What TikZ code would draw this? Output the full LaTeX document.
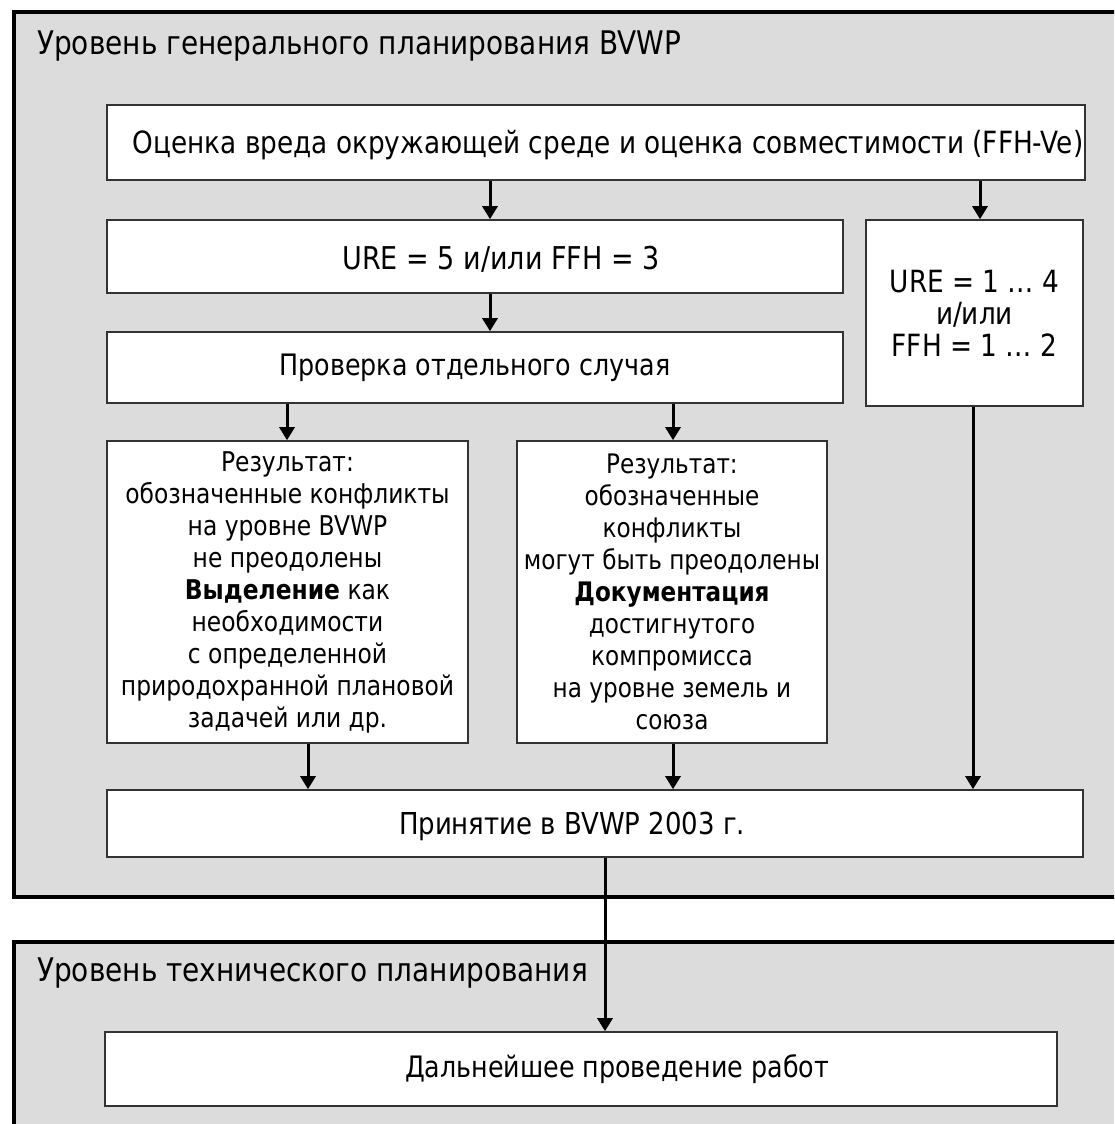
\documentclass[tikz,border=0pt]{standalone}
\usepackage{fontspec}
\setmainfont{DejaVu Sans}[FakeStretch=0.86]
\usetikzlibrary{arrows.meta}
\definecolor{panelgray}{HTML}{DCDCDC}
\definecolor{boxline}{HTML}{333333}
\newcommand{\lowerit}[1]{\raisebox{-3pt}[\height][\depth]{#1}}
\tikzset{
  panelfill/.style={fill=panelgray},
  panelline/.style={draw=black, line width=4pt},
  box/.style={draw=boxline, fill=white, line width=1.6pt, inner sep=0pt, align=center},
  fs/.style={font=\fontsize{#1}{32}\selectfont},
  arr/.style={draw=black, line width=3pt, -{Triangle[width=15pt,length=13pt]}},
  title/.style={anchor=base west, inner sep=0pt, font=\fontsize{32.5}{34}\selectfont}
}
\begin{document}
\begin{tikzpicture}[x=1pt,y=-1pt]
\useasboundingbox (0,0) rectangle (1114,1124);
\clip (0,0) rectangle (1114,1124);
\fill[white] (0,0) rectangle (1114,1124);
% panels
\fill[panelfill] (14,12) rectangle (1130,897);
\draw[panelline] (1130,12) -- (14,12) -- (14,897) -- (1130,897);
\fill[panelfill] (14,942) rectangle (1130,1140);
\draw[panelline] (1130,942) -- (14,942) -- (14,1140);
\node[title] (t1) at (37,55) {Уровень генерального планирования BVWP};
\node[title] (t2) at (37,981) {Уровень технического планирования};
% boxes
\node[box, fs=30.6, minimum width=978, minimum height=75] (b1) at (596,142.5)
  {\lowerit{\hspace*{24pt}Оценка вреда окружающей среде и оценка совместимости (FFH-Ve)}};
\node[box, fs=31.4, minimum width=736, minimum height=73] (b2) at (475,256.5)
  {\lowerit{\hspace*{52pt}URE = 5 и/или FFH = 3}};
\node[box, fs=30.6, minimum width=217, minimum height=186] (br) at (974.5,313)
  {\fontsize{30.6}{35}\selectfont URE = 1 \dots{} 4\\и/или\\FFH = 1 \dots{} 2};
\node[box, fs=29.5, minimum width=736, minimum height=71] (b3) at (475,367.5)
  {Проверка отдельного случая};
\node[box, fs=27.2, minimum width=361, minimum height=302] (b4) at (287.5,592)
  {Результат:\\обозначенные конфликты\\на уровне BVWP\\не преодолены\\\textbf{Выделение} как\\необходимости\\с определенной\\природохранной плановой\\задачей или др.};
\node[box, fs=26.9, minimum width=310, minimum height=302] (b5) at (672,592)
  {Результат:\\обозначенные\\конфликты\\могут быть преодолены\\\textbf{Документация}\\достигнутого\\компромисса\\на уровне земель и\\союза};
\node[box, fs=30.2, minimum width=976, minimum height=67] (b6) at (595,823.5)
  {\lowerit{Принятие в BVWP 2003 г.\hspace*{46pt}}};
\node[box, fs=29.5, minimum width=952, minimum height=74] (b7) at (581,1069)
  {\hspace*{72pt}Дальнейшее проведение работ};
% arrow columns
\coordinate (xa) at (490,0);
\coordinate (xb) at (980,0);
\coordinate (xc) at (287,0);
\coordinate (xd) at (673,0);
\coordinate (xe) at (308,0);
\coordinate (xf) at (973,0);
\coordinate (xg) at (605,0);
\draw[arr] (b1.south -| xa) -- (b2.north -| xa);
\draw[arr] (b1.south -| xb) -- (br.north -| xb);
\draw[arr] (b2.south -| xa) -- (b3.north -| xa);
\draw[arr] (b3.south -| xc) -- (b4.north -| xc);
\draw[arr] (b3.south -| xd) -- (b5.north -| xd);
\draw[arr] (b4.south -| xe) -- (b6.north -| xe);
\draw[arr] (b5.south -| xd) -- (b6.north -| xd);
\draw[arr] (br.south -| xf) -- (b6.north -| xf);
\draw[arr] (b6.south -| xg) -- (b7.north -| xg);
\end{tikzpicture}
\end{document}
